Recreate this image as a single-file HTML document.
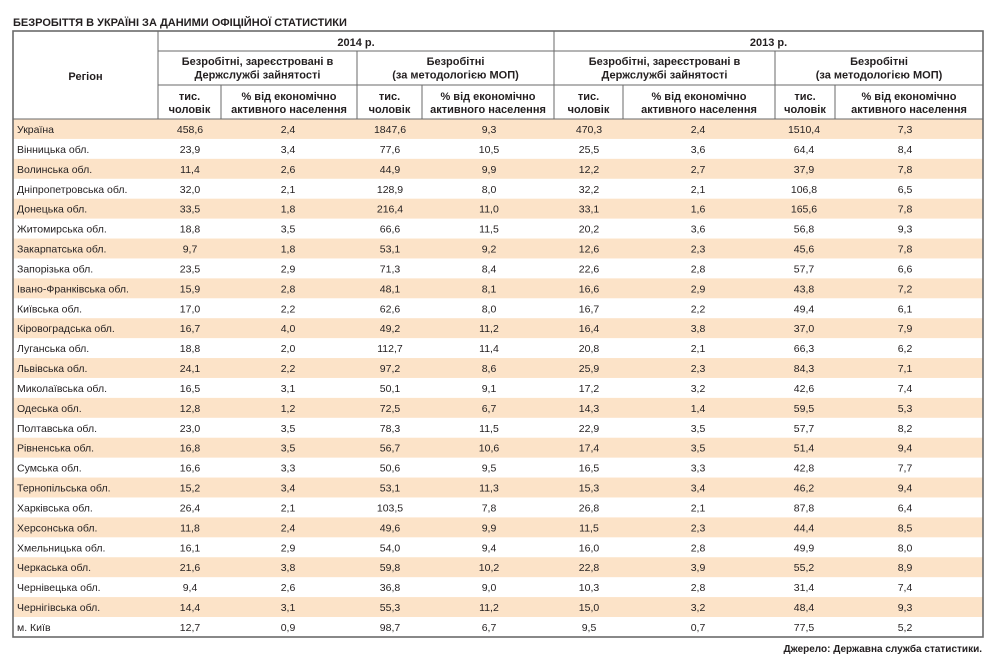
<!DOCTYPE html>
<html><head><meta charset="utf-8"><style>
html,body{margin:0;padding:0;background:#fff;}
svg{display:block;}
text{font-family:"Liberation Sans","Noto Sans CJK SC",sans-serif;fill:#231f20;}
.h{font-weight:bold;font-size:11px;text-anchor:middle;}
.d{font-size:10.5px;text-anchor:middle;}
.r{font-size:10.5px;}
</style></head><body>
<svg width="1000" height="654" viewBox="0 0 1000 654" xmlns="http://www.w3.org/2000/svg">
<text x="13" y="26" style="font-weight:bold;font-size:11px;">БЕЗРОБІТТЯ В УКРАЇНІ ЗА ДАНИМИ ОФІЦІЙНОЇ СТАТИСТИКИ</text>

<!-- stripes -->
<g fill="#fce3c8">
<rect x="13" y="119" width="970" height="19.92"/>
<rect x="13" y="158.84" width="970" height="19.92"/>
<rect x="13" y="198.68" width="970" height="19.92"/>
<rect x="13" y="238.52" width="970" height="19.92"/>
<rect x="13" y="278.36" width="970" height="19.92"/>
<rect x="13" y="318.2" width="970" height="19.92"/>
<rect x="13" y="358.04" width="970" height="19.92"/>
<rect x="13" y="397.88" width="970" height="19.92"/>
<rect x="13" y="437.72" width="970" height="19.92"/>
<rect x="13" y="477.56" width="970" height="19.92"/>
<rect x="13" y="517.4" width="970" height="19.92"/>
<rect x="13" y="557.24" width="970" height="19.92"/>
<rect x="13" y="597.08" width="970" height="19.92"/>
</g>

<!-- header grid -->
<g stroke="#6a6a6a" stroke-width="1" fill="none">
<line x1="158" y1="51" x2="983" y2="51"/>
<line x1="158" y1="85" x2="983" y2="85"/>
<line x1="13" y1="119" x2="983" y2="119"/>
<line x1="158" y1="31" x2="158" y2="119"/>
<line x1="554" y1="31" x2="554" y2="119"/>
<line x1="357" y1="51" x2="357" y2="119"/>
<line x1="775" y1="51" x2="775" y2="119"/>
<line x1="221" y1="85" x2="221" y2="119"/>
<line x1="422" y1="85" x2="422" y2="119"/>
<line x1="623" y1="85" x2="623" y2="119"/>
<line x1="835" y1="85" x2="835" y2="119"/>
</g>
<rect x="13" y="31" width="970" height="606" fill="none" stroke="#6a6a6a" stroke-width="1.6"/>

<!-- header text -->
<text class="h" x="85.5" y="80">Регіон</text>
<text class="h" x="356" y="46">2014 р.</text>
<text class="h" x="768.5" y="46">2013 р.</text>
<text class="h" x="257.5" y="65">Безробітні, зареєстровані в</text>
<text class="h" x="257.5" y="78.5">Держслужбі зайнятості</text>
<text class="h" x="455.5" y="65">Безробітні</text>
<text class="h" x="455.5" y="78.5">(за методологією МОП)</text>
<text class="h" x="664.5" y="65">Безробітні, зареєстровані в</text>
<text class="h" x="664.5" y="78.5">Держслужбі зайнятості</text>
<text class="h" x="879" y="65">Безробітні</text>
<text class="h" x="879" y="78.5">(за методологією МОП)</text>
<g>
<text class="h" x="189.5" y="100">тис.</text><text class="h" x="189.5" y="113">чоловік</text>
<text class="h" x="289" y="100">% від економічно</text><text class="h" x="289" y="113">активного населення</text>
<text class="h" x="389.5" y="100">тис.</text><text class="h" x="389.5" y="113">чоловік</text>
<text class="h" x="488" y="100">% від економічно</text><text class="h" x="488" y="113">активного населення</text>
<text class="h" x="588.5" y="100">тис.</text><text class="h" x="588.5" y="113">чоловік</text>
<text class="h" x="699" y="100">% від економічно</text><text class="h" x="699" y="113">активного населення</text>
<text class="h" x="805" y="100">тис.</text><text class="h" x="805" y="113">чоловік</text>
<text class="h" x="909" y="100">% від економічно</text><text class="h" x="909" y="113">активного населення</text>
</g>

<!-- data rows -->
<g transform="translate(0,119)"><text class="r" x="17" y="14">Україна</text><text class="d" x="190" y="14">458,6</text><text class="d" x="288" y="14">2,4</text><text class="d" x="390" y="14">1847,6</text><text class="d" x="489" y="14">9,3</text><text class="d" x="589" y="14">470,3</text><text class="d" x="698" y="14">2,4</text><text class="d" x="804" y="14">1510,4</text><text class="d" x="905" y="14">7,3</text></g>
<g transform="translate(0,138.92)"><text class="r" x="17" y="14">Вінницька обл.</text><text class="d" x="190" y="14">23,9</text><text class="d" x="288" y="14">3,4</text><text class="d" x="390" y="14">77,6</text><text class="d" x="489" y="14">10,5</text><text class="d" x="589" y="14">25,5</text><text class="d" x="698" y="14">3,6</text><text class="d" x="804" y="14">64,4</text><text class="d" x="905" y="14">8,4</text></g>
<g transform="translate(0,158.84)"><text class="r" x="17" y="14">Волинська обл.</text><text class="d" x="190" y="14">11,4</text><text class="d" x="288" y="14">2,6</text><text class="d" x="390" y="14">44,9</text><text class="d" x="489" y="14">9,9</text><text class="d" x="589" y="14">12,2</text><text class="d" x="698" y="14">2,7</text><text class="d" x="804" y="14">37,9</text><text class="d" x="905" y="14">7,8</text></g>
<g transform="translate(0,178.76)"><text class="r" x="17" y="14">Дніпропетровська обл.</text><text class="d" x="190" y="14">32,0</text><text class="d" x="288" y="14">2,1</text><text class="d" x="390" y="14">128,9</text><text class="d" x="489" y="14">8,0</text><text class="d" x="589" y="14">32,2</text><text class="d" x="698" y="14">2,1</text><text class="d" x="804" y="14">106,8</text><text class="d" x="905" y="14">6,5</text></g>
<g transform="translate(0,198.68)"><text class="r" x="17" y="14">Донецька обл.</text><text class="d" x="190" y="14">33,5</text><text class="d" x="288" y="14">1,8</text><text class="d" x="390" y="14">216,4</text><text class="d" x="489" y="14">11,0</text><text class="d" x="589" y="14">33,1</text><text class="d" x="698" y="14">1,6</text><text class="d" x="804" y="14">165,6</text><text class="d" x="905" y="14">7,8</text></g>
<g transform="translate(0,218.6)"><text class="r" x="17" y="14">Житомирська обл.</text><text class="d" x="190" y="14">18,8</text><text class="d" x="288" y="14">3,5</text><text class="d" x="390" y="14">66,6</text><text class="d" x="489" y="14">11,5</text><text class="d" x="589" y="14">20,2</text><text class="d" x="698" y="14">3,6</text><text class="d" x="804" y="14">56,8</text><text class="d" x="905" y="14">9,3</text></g>
<g transform="translate(0,238.52)"><text class="r" x="17" y="14">Закарпатська обл.</text><text class="d" x="190" y="14">9,7</text><text class="d" x="288" y="14">1,8</text><text class="d" x="390" y="14">53,1</text><text class="d" x="489" y="14">9,2</text><text class="d" x="589" y="14">12,6</text><text class="d" x="698" y="14">2,3</text><text class="d" x="804" y="14">45,6</text><text class="d" x="905" y="14">7,8</text></g>
<g transform="translate(0,258.44)"><text class="r" x="17" y="14">Запорізька обл.</text><text class="d" x="190" y="14">23,5</text><text class="d" x="288" y="14">2,9</text><text class="d" x="390" y="14">71,3</text><text class="d" x="489" y="14">8,4</text><text class="d" x="589" y="14">22,6</text><text class="d" x="698" y="14">2,8</text><text class="d" x="804" y="14">57,7</text><text class="d" x="905" y="14">6,6</text></g>
<g transform="translate(0,278.36)"><text class="r" x="17" y="14">Івано-Франківська обл.</text><text class="d" x="190" y="14">15,9</text><text class="d" x="288" y="14">2,8</text><text class="d" x="390" y="14">48,1</text><text class="d" x="489" y="14">8,1</text><text class="d" x="589" y="14">16,6</text><text class="d" x="698" y="14">2,9</text><text class="d" x="804" y="14">43,8</text><text class="d" x="905" y="14">7,2</text></g>
<g transform="translate(0,298.28)"><text class="r" x="17" y="14">Київська обл.</text><text class="d" x="190" y="14">17,0</text><text class="d" x="288" y="14">2,2</text><text class="d" x="390" y="14">62,6</text><text class="d" x="489" y="14">8,0</text><text class="d" x="589" y="14">16,7</text><text class="d" x="698" y="14">2,2</text><text class="d" x="804" y="14">49,4</text><text class="d" x="905" y="14">6,1</text></g>
<g transform="translate(0,318.2)"><text class="r" x="17" y="14">Кіровоградська обл.</text><text class="d" x="190" y="14">16,7</text><text class="d" x="288" y="14">4,0</text><text class="d" x="390" y="14">49,2</text><text class="d" x="489" y="14">11,2</text><text class="d" x="589" y="14">16,4</text><text class="d" x="698" y="14">3,8</text><text class="d" x="804" y="14">37,0</text><text class="d" x="905" y="14">7,9</text></g>
<g transform="translate(0,338.12)"><text class="r" x="17" y="14">Луганська обл.</text><text class="d" x="190" y="14">18,8</text><text class="d" x="288" y="14">2,0</text><text class="d" x="390" y="14">112,7</text><text class="d" x="489" y="14">11,4</text><text class="d" x="589" y="14">20,8</text><text class="d" x="698" y="14">2,1</text><text class="d" x="804" y="14">66,3</text><text class="d" x="905" y="14">6,2</text></g>
<g transform="translate(0,358.04)"><text class="r" x="17" y="14">Львівська обл.</text><text class="d" x="190" y="14">24,1</text><text class="d" x="288" y="14">2,2</text><text class="d" x="390" y="14">97,2</text><text class="d" x="489" y="14">8,6</text><text class="d" x="589" y="14">25,9</text><text class="d" x="698" y="14">2,3</text><text class="d" x="804" y="14">84,3</text><text class="d" x="905" y="14">7,1</text></g>
<g transform="translate(0,377.96)"><text class="r" x="17" y="14">Миколаївська обл.</text><text class="d" x="190" y="14">16,5</text><text class="d" x="288" y="14">3,1</text><text class="d" x="390" y="14">50,1</text><text class="d" x="489" y="14">9,1</text><text class="d" x="589" y="14">17,2</text><text class="d" x="698" y="14">3,2</text><text class="d" x="804" y="14">42,6</text><text class="d" x="905" y="14">7,4</text></g>
<g transform="translate(0,397.88)"><text class="r" x="17" y="14">Одеська обл.</text><text class="d" x="190" y="14">12,8</text><text class="d" x="288" y="14">1,2</text><text class="d" x="390" y="14">72,5</text><text class="d" x="489" y="14">6,7</text><text class="d" x="589" y="14">14,3</text><text class="d" x="698" y="14">1,4</text><text class="d" x="804" y="14">59,5</text><text class="d" x="905" y="14">5,3</text></g>
<g transform="translate(0,417.8)"><text class="r" x="17" y="14">Полтавська обл.</text><text class="d" x="190" y="14">23,0</text><text class="d" x="288" y="14">3,5</text><text class="d" x="390" y="14">78,3</text><text class="d" x="489" y="14">11,5</text><text class="d" x="589" y="14">22,9</text><text class="d" x="698" y="14">3,5</text><text class="d" x="804" y="14">57,7</text><text class="d" x="905" y="14">8,2</text></g>
<g transform="translate(0,437.72)"><text class="r" x="17" y="14">Рівненська обл.</text><text class="d" x="190" y="14">16,8</text><text class="d" x="288" y="14">3,5</text><text class="d" x="390" y="14">56,7</text><text class="d" x="489" y="14">10,6</text><text class="d" x="589" y="14">17,4</text><text class="d" x="698" y="14">3,5</text><text class="d" x="804" y="14">51,4</text><text class="d" x="905" y="14">9,4</text></g>
<g transform="translate(0,457.64)"><text class="r" x="17" y="14">Сумська обл.</text><text class="d" x="190" y="14">16,6</text><text class="d" x="288" y="14">3,3</text><text class="d" x="390" y="14">50,6</text><text class="d" x="489" y="14">9,5</text><text class="d" x="589" y="14">16,5</text><text class="d" x="698" y="14">3,3</text><text class="d" x="804" y="14">42,8</text><text class="d" x="905" y="14">7,7</text></g>
<g transform="translate(0,477.56)"><text class="r" x="17" y="14">Тернопільська обл.</text><text class="d" x="190" y="14">15,2</text><text class="d" x="288" y="14">3,4</text><text class="d" x="390" y="14">53,1</text><text class="d" x="489" y="14">11,3</text><text class="d" x="589" y="14">15,3</text><text class="d" x="698" y="14">3,4</text><text class="d" x="804" y="14">46,2</text><text class="d" x="905" y="14">9,4</text></g>
<g transform="translate(0,497.48)"><text class="r" x="17" y="14">Харківська обл.</text><text class="d" x="190" y="14">26,4</text><text class="d" x="288" y="14">2,1</text><text class="d" x="390" y="14">103,5</text><text class="d" x="489" y="14">7,8</text><text class="d" x="589" y="14">26,8</text><text class="d" x="698" y="14">2,1</text><text class="d" x="804" y="14">87,8</text><text class="d" x="905" y="14">6,4</text></g>
<g transform="translate(0,517.4)"><text class="r" x="17" y="14">Херсонська обл.</text><text class="d" x="190" y="14">11,8</text><text class="d" x="288" y="14">2,4</text><text class="d" x="390" y="14">49,6</text><text class="d" x="489" y="14">9,9</text><text class="d" x="589" y="14">11,5</text><text class="d" x="698" y="14">2,3</text><text class="d" x="804" y="14">44,4</text><text class="d" x="905" y="14">8,5</text></g>
<g transform="translate(0,537.32)"><text class="r" x="17" y="14">Хмельницька обл.</text><text class="d" x="190" y="14">16,1</text><text class="d" x="288" y="14">2,9</text><text class="d" x="390" y="14">54,0</text><text class="d" x="489" y="14">9,4</text><text class="d" x="589" y="14">16,0</text><text class="d" x="698" y="14">2,8</text><text class="d" x="804" y="14">49,9</text><text class="d" x="905" y="14">8,0</text></g>
<g transform="translate(0,557.24)"><text class="r" x="17" y="14">Черкаська обл.</text><text class="d" x="190" y="14">21,6</text><text class="d" x="288" y="14">3,8</text><text class="d" x="390" y="14">59,8</text><text class="d" x="489" y="14">10,2</text><text class="d" x="589" y="14">22,8</text><text class="d" x="698" y="14">3,9</text><text class="d" x="804" y="14">55,2</text><text class="d" x="905" y="14">8,9</text></g>
<g transform="translate(0,577.16)"><text class="r" x="17" y="14">Чернівецька обл.</text><text class="d" x="190" y="14">9,4</text><text class="d" x="288" y="14">2,6</text><text class="d" x="390" y="14">36,8</text><text class="d" x="489" y="14">9,0</text><text class="d" x="589" y="14">10,3</text><text class="d" x="698" y="14">2,8</text><text class="d" x="804" y="14">31,4</text><text class="d" x="905" y="14">7,4</text></g>
<g transform="translate(0,597.08)"><text class="r" x="17" y="14">Чернігівська обл.</text><text class="d" x="190" y="14">14,4</text><text class="d" x="288" y="14">3,1</text><text class="d" x="390" y="14">55,3</text><text class="d" x="489" y="14">11,2</text><text class="d" x="589" y="14">15,0</text><text class="d" x="698" y="14">3,2</text><text class="d" x="804" y="14">48,4</text><text class="d" x="905" y="14">9,3</text></g>
<g transform="translate(0,617)"><text class="r" x="17" y="14">м. Київ</text><text class="d" x="190" y="14">12,7</text><text class="d" x="288" y="14">0,9</text><text class="d" x="390" y="14">98,7</text><text class="d" x="489" y="14">6,7</text><text class="d" x="589" y="14">9,5</text><text class="d" x="698" y="14">0,7</text><text class="d" x="804" y="14">77,5</text><text class="d" x="905" y="14">5,2</text></g>

<text x="982" y="652" style="font-weight:bold;font-size:10px;text-anchor:end;">Джерело: Державна служба статистики.</text>
</svg>
</body></html>
